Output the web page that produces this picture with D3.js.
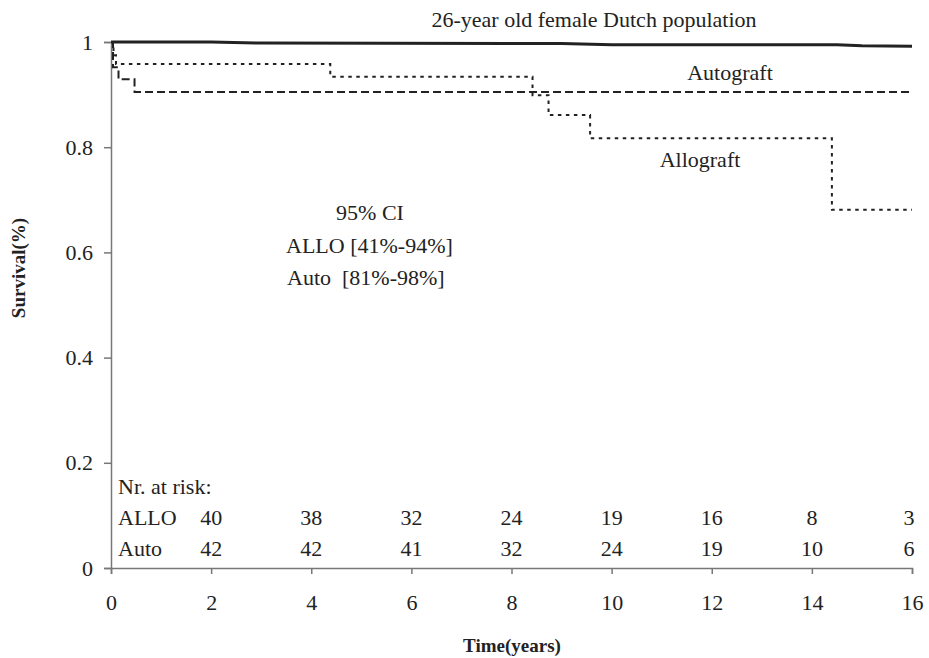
<!DOCTYPE html>
<html>
<head>
<meta charset="utf-8">
<script src="https://cdn.jsdelivr.net/npm/d3@7"></script>
<style>
  body { margin: 0; background: #fff; }
  svg text { font-family: "Liberation Serif", "Times New Roman", serif; fill: #222; }
</style>
</head>
<body>
<script>
// values
let xTicks = [0, 2, 4, 6, 8, 10, 12, 14, 16]
let yTicks = [0, 0.2, 0.4, 0.6, 0.8, 1]

let popTime = [0, 2, 3, 9, 10, 14.5, 15, 16]
let popSurv = [1, 1, 0.998, 0.997, 0.995, 0.995, 0.993, 0.992]

let alloTime = [0, 0.05, 0.1, 4.38, 8.42, 8.74, 9.57, 14.4, 16]
let alloSurv = [1, 0.975, 0.958, 0.934, 0.899, 0.861, 0.817, 0.681, 0.681]

let autoTime = [0, 0.04, 0.15, 0.47, 16]
let autoSurv = [1, 0.952, 0.929, 0.905, 0.905]

let riskYears = [2, 4, 6, 8, 10, 12, 14, 16]
let alloRisk = [40, 38, 32, 24, 19, 16, 8, 3]
let autoRisk = [42, 42, 41, 32, 24, 19, 10, 6]

let width = 929, height = 658
let margin = {top: 42, right: 17, bottom: 90, left: 111}
let fontSize = '22px'
let serif = '"Liberation Serif", "Times New Roman", serif'

let x = d3.scaleLinear().domain([0, 16]).range([margin.left, width - margin.right])
let y = d3.scaleLinear().domain([0, 1]).range([height - margin.bottom, margin.top])

const svg = d3.select('body').append('svg')
    .attr('width', width)
    .attr('height', height)

let axisColor = '#777'

let xAxis = g => g
    .attr('transform', `translate(0,${y(0)})`)
    .call(d3.axisBottom(x).tickValues(xTicks).tickFormat(d3.format('d')).tickSizeOuter(0).tickSize(6).tickPadding(20))
    .attr('font-family', serif)
    .attr('font-size', null)
    .call(g => g.selectAll('line, path').attr('stroke', axisColor).attr('stroke-width', 1.5))
    .call(g => g.selectAll('text').style('font-size', fontSize).style('font-family', serif))

let yAxis = g => g
    .attr('transform', `translate(${margin.left},0)`)
    .call(d3.axisLeft(y).tickValues(yTicks).tickFormat(d => d === 0 || d === 1 ? d : d3.format('.1f')(d)).tickSizeOuter(0).tickSize(7).tickPadding(11))
    .attr('font-family', serif)
    .attr('font-size', null)
    .call(g => g.selectAll('line, path').attr('stroke', axisColor).attr('stroke-width', 1.5))
    .call(g => g.selectAll('text').style('font-size', fontSize).style('font-family', serif))

svg.append('g').call(xAxis)
svg.append('g').call(yAxis)

let step = d3.line().x(d => x(d[0])).y(d => y(d[1])).curve(d3.curveStepAfter)
let smooth = d3.line().x(d => x(d[0])).y(d => y(d[1]))

svg.append('path')
    .datum(d3.zip(popTime, popSurv))
    .attr('d', smooth)
    .attr('fill', 'none')
    .attr('stroke', '#222')
    .attr('stroke-width', 3)

svg.append('path')
    .datum(d3.zip(autoTime, autoSurv))
    .attr('d', step)
    .attr('fill', 'none')
    .attr('stroke', '#222')
    .attr('stroke-width', 2)
    .attr('stroke-dasharray', '8,4')

svg.append('path')
    .datum(d3.zip(alloTime, alloSurv))
    .attr('d', step)
    .attr('fill', 'none')
    .attr('stroke', '#222')
    .attr('stroke-width', 2)
    .attr('stroke-dasharray', '3.5,4.5')

function label(txt, px, py, anchor) {
  return svg.append('text')
    .attr('x', px).attr('y', py)
    .attr('text-anchor', anchor || 'middle')
    .style('font-size', fontSize)
    .style('white-space', 'pre')
    .text(txt)
}

label('26-year old female Dutch population', 594, 27)
label('Autograft', 730, 80)
label('Allograft', 700, 167)
label('95% CI', 370, 220)
label('ALLO [41%-94%]', 286, 253, 'start')
label('Auto  [81%-98%]', 287, 285, 'start')

// numbers at risk
label('Nr. at risk:', 118, 494, 'start')
label('ALLO', 118, 525, 'start')
label('Auto', 118, 556, 'start')
svg.append('g').selectAll('text')
  .data(d3.zip(riskYears, alloRisk))
  .join('text')
    .attr('x', d => x(d[0]) - (d[0] === 16 ? 3 : 0))
    .attr('y', 525)
    .attr('text-anchor', 'middle')
    .style('font-size', fontSize)
    .text(d => d[1])
svg.append('g').selectAll('text')
  .data(d3.zip(riskYears, autoRisk))
  .join('text')
    .attr('x', d => x(d[0]) - (d[0] === 16 ? 3 : 0))
    .attr('y', 556)
    .attr('text-anchor', 'middle')
    .style('font-size', fontSize)
    .text(d => d[1])

// axis titles
label('Time(years)', 512, 652).style('font-weight', 'bold').style('font-size', '19px')
svg.append('text')
    .attr('transform', `translate(25,268) rotate(-90)`)
    .attr('text-anchor', 'middle')
    .style('font-size', '19px')
    .style('font-weight', 'bold')
    .text('Survival(%)')
</script>
</body>
</html>
